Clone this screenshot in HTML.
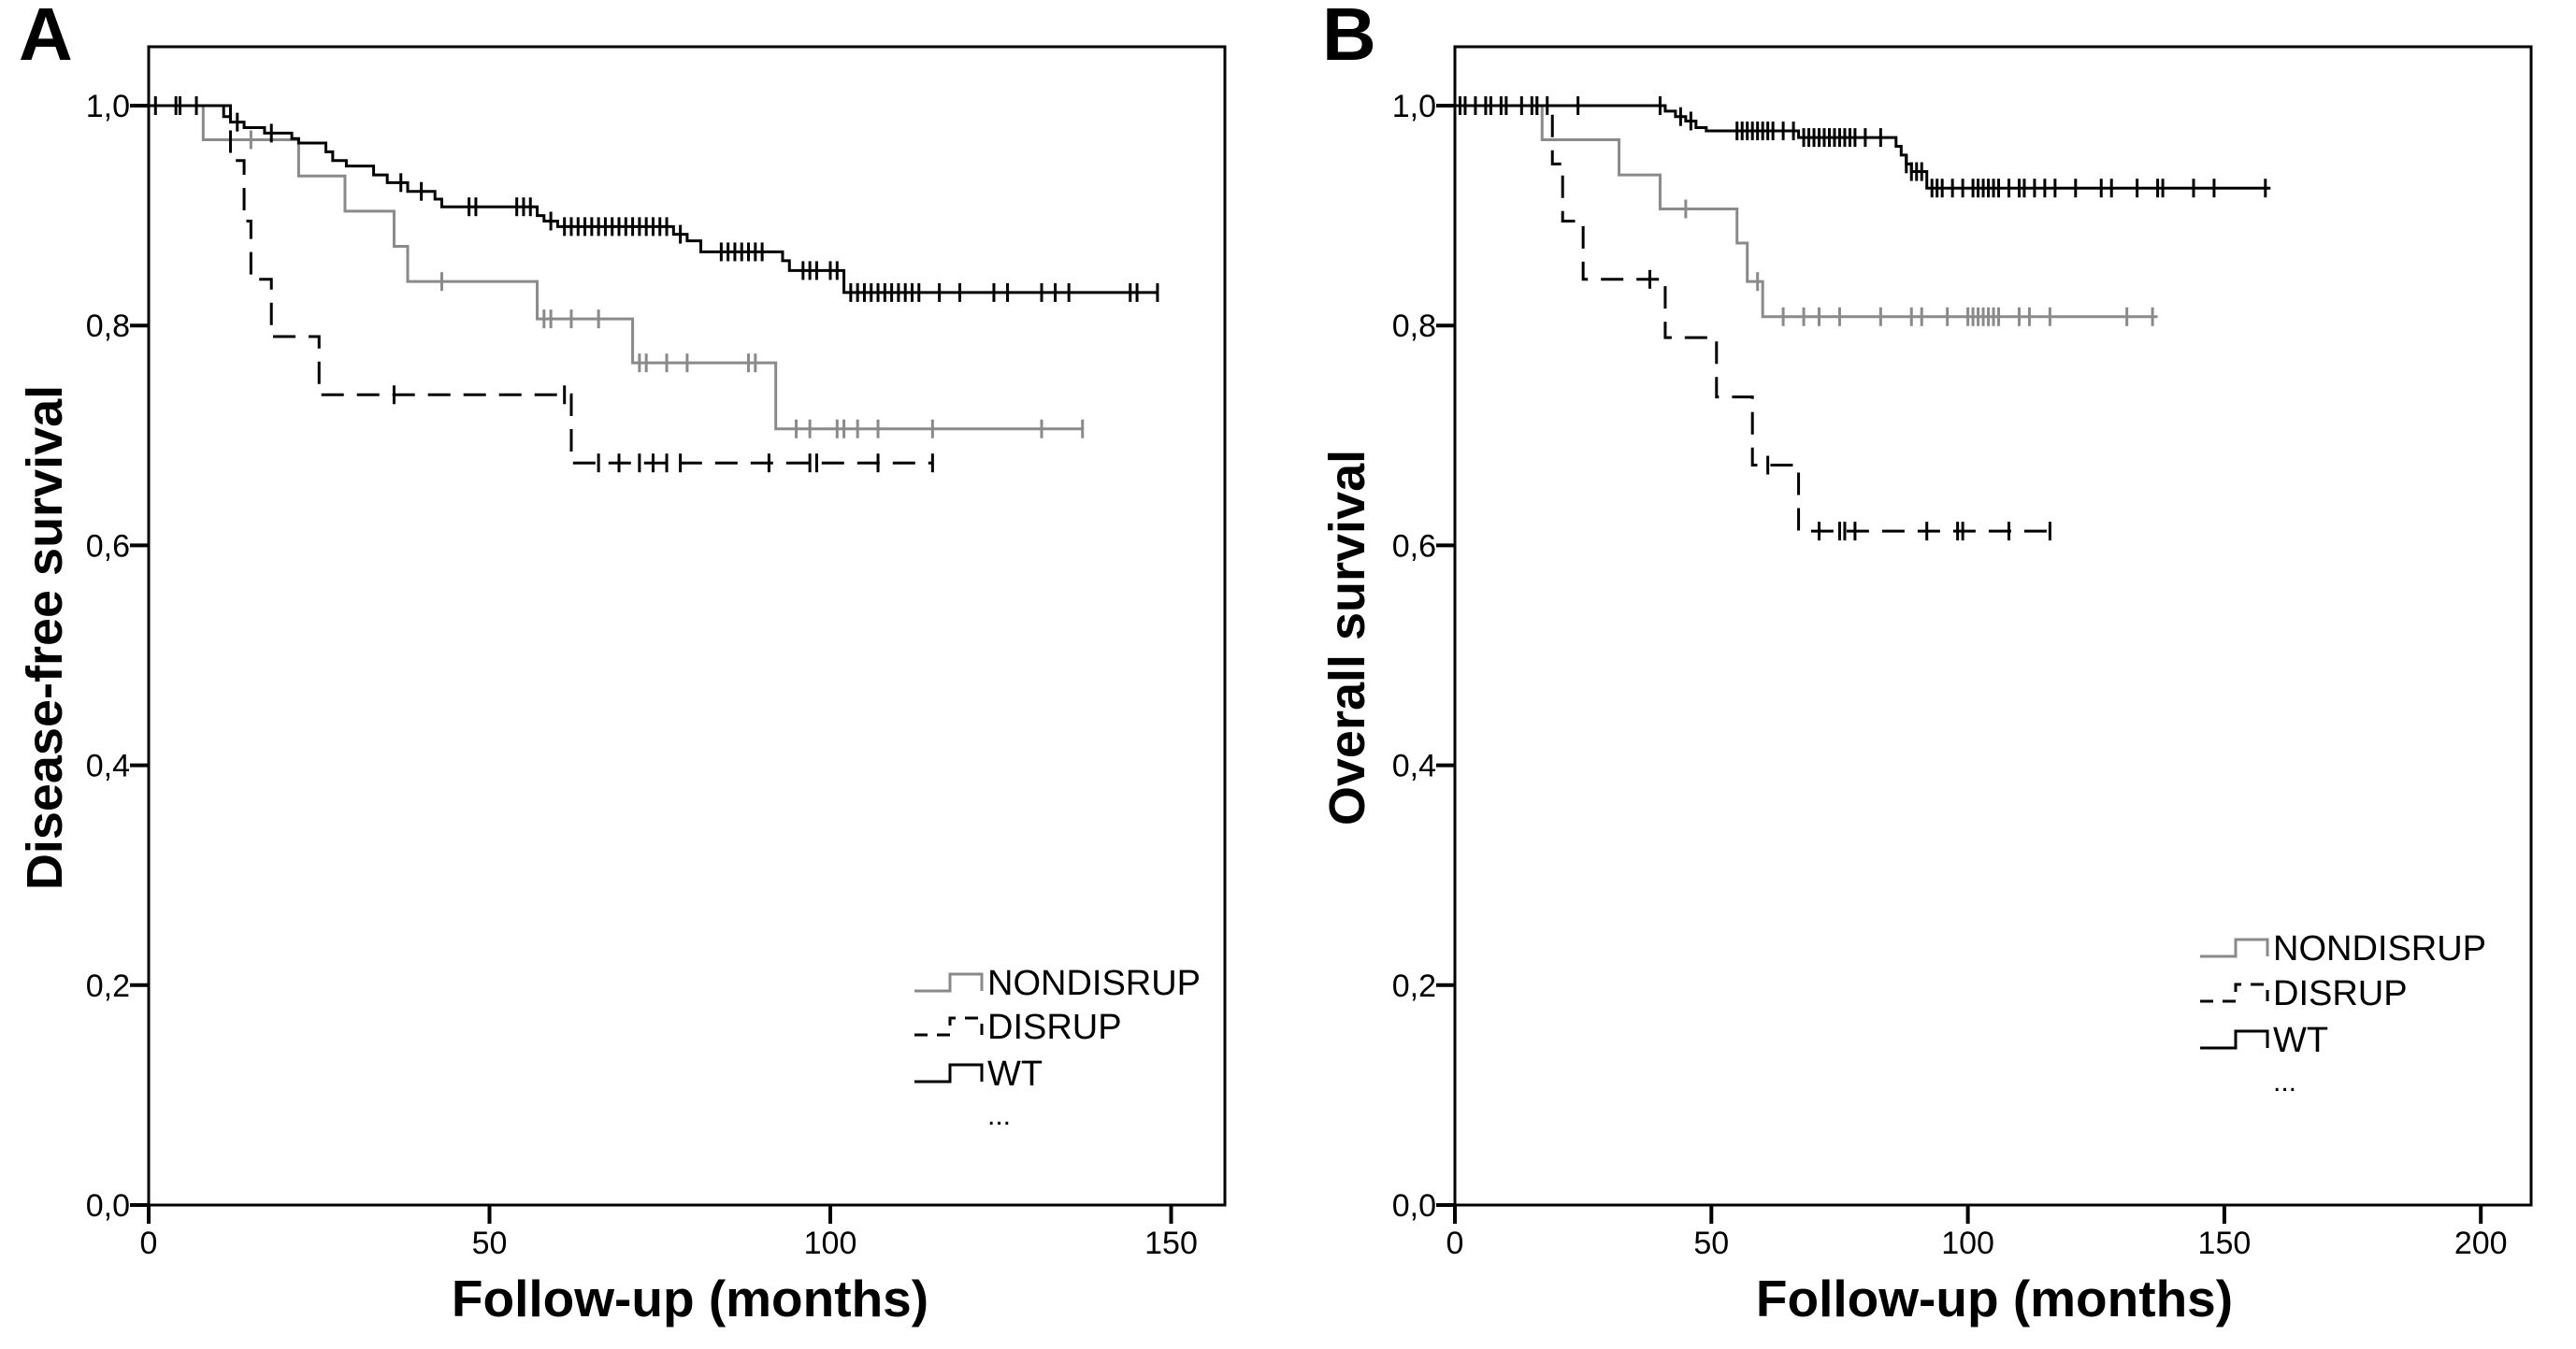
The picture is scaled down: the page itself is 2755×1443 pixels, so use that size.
<!DOCTYPE html>
<html><head><meta charset="utf-8"><style>
html,body{margin:0;padding:0;background:#fff;}
svg{display:block;font-family:"Liberation Sans",Arial,sans-serif;}
</style></head><body>
<svg id="fig" width="2755" height="1443" viewBox="0 0 2755 1443"></svg>
<script>
// ---- Panel A data (disease-free survival) ----
const aNonTimes = [8, 22, 28.8, 36, 38, 57, 71, 92];
const aNonVals  = [0.969, 0.936, 0.904, 0.872, 0.84, 0.806, 0.766, 0.706];
const aNonCens  = [15, 43, 58, 59, 62, 66, 72, 73, 76, 79, 88, 89, 95, 97, 101, 102, 104, 107, 115, 131, 137];
const aNonEnd = 137;
const aDisTimes = [12, 14, 15, 18, 25, 62];
const aDisVals  = [0.95, 0.895, 0.842, 0.79, 0.737, 0.675];
const aDisCens  = [36, 61, 66, 69, 72, 74, 76, 78, 91, 97, 98, 107, 115];
const aDisEnd = 115;
const aWtTimes = [11, 12, 14, 17, 21, 22, 26, 27, 29, 33, 35, 38, 42, 43, 57, 58, 60, 77, 79, 81, 93, 94, 102];
const aWtVals  = [0.99, 0.985, 0.98, 0.975, 0.97, 0.966, 0.958, 0.95, 0.945, 0.937, 0.93, 0.922, 0.915, 0.908, 0.9, 0.895, 0.89, 0.883, 0.877, 0.867, 0.859, 0.85, 0.83];
const aWtCens  = [1, 4, 4.6, 7, 13, 18, 37, 40, 47, 48, 54, 55, 56, 59, 61, 62, 63, 64, 65, 66, 67, 68, 69, 70, 71, 72, 73, 74, 75, 76, 78, 84, 85, 86, 87, 88, 89, 90, 96, 97, 98, 100, 101, 103, 104, 105, 106, 107, 108, 109, 110, 111, 112, 113, 116, 119, 124, 126, 131, 133, 135, 144, 145, 148];
const aWtEnd = 148;
// ---- Panel B data (overall survival) ----
const bNonTimes = [17, 32, 40, 55, 57, 60];
const bNonVals  = [0.969, 0.937, 0.906, 0.875, 0.84, 0.808];
const bNonCens  = [16, 45, 59, 64, 68, 71, 75, 83, 89, 91, 96, 100, 101, 102, 103, 104, 105, 106, 110, 112, 116, 131, 136];
const bNonEnd = 137;
const bDisTimes = [19, 21, 25, 41, 51, 58, 67];
const bDisVals  = [0.947, 0.895, 0.842, 0.789, 0.735, 0.673, 0.613];
const bDisCens  = [38, 61, 71, 75, 76, 78, 92, 98, 99, 108, 116];
const bDisEnd = 117;
const bWtTimes = [41, 43, 45, 47, 49, 67, 86, 87, 88, 89, 92];
const bWtVals  = [0.995, 0.99, 0.986, 0.98, 0.977, 0.971, 0.963, 0.955, 0.947, 0.94, 0.925];
const bWtCens  = [1, 2, 4, 6, 7, 9, 10, 13, 15, 16, 18, 24, 40, 44, 46, 55, 56, 57, 58, 59, 60, 61, 62, 64, 66, 68, 69, 70, 71, 72, 73, 74, 75, 76, 77, 78, 80, 83, 88, 89, 90, 91, 93, 94, 95, 97, 99, 101, 102, 103, 104, 105, 106, 108, 110, 111, 113, 115, 117, 121, 126, 128, 133, 137, 138, 144, 148, 158];
const bWtEnd = 159;
const yTicks = [0, 0.2, 0.4, 0.6, 0.8, 1.0];
const yTickLabels = ["0,0", "0,2", "0,4", "0,6", "0,8", "1,0"];

const NS = "http://www.w3.org/2000/svg";
const svg = document.getElementById('fig');
function el(tag, attrs, parent, text){
  const e = document.createElementNS(NS, tag);
  for (const k in attrs) e.setAttribute(k, attrs[k]);
  if (text !== undefined) e.textContent = text;
  (parent || svg).appendChild(e);
  return e;
}
function stepVal(times, vals, t){
  let v = 1;
  for (let i = 0; i < times.length; i++) if (times[i] <= t) v = vals[i];
  return v;
}
function drawPanel(cfg){
  const g = el('g', {});
  
  
  const xs = t => cfg.left + t * cfg.pxPerMonth;
  const ys = v => cfg.bottom - v * (cfg.bottom - cfg.y1);
  const box = el('rect', {x: cfg.left, y: cfg.top, width: cfg.right - cfg.left, height: cfg.bottom - cfg.top, fill: 'none', stroke: '#000', 'stroke-width': 3}, g);
  
  
  yTicks.forEach((v, i) => {
    const y = ys(v);
    el('line', {x1: cfg.left - 20, x2: cfg.left, y1: y, y2: y, stroke: '#000', 'stroke-width': 4}, g);
    const t = el('text', {x: cfg.left - 20, y: y + 12, 'font-size': 34, 'text-anchor': 'end'}, g, yTickLabels[i]);
    
    
  });
  cfg.xTicks.forEach(m => {
    const x = xs(m);
    el('line', {x1: x, x2: x, y1: cfg.bottom, y2: cfg.bottom + 20, stroke: '#000', 'stroke-width': 4}, g);
    const t = el('text', {x: x, y: cfg.bottom + 52, 'font-size': 34, 'text-anchor': 'middle'}, g, String(m));
    
    
  });
  const xt = el('text', {x: cfg.xTitleX, y: 1408, 'font-size': 55, 'font-weight': 'bold', 'text-anchor': 'middle'}, g, 'Follow-up (months)');
  
  
  const yt = el('text', {x: 0, y: 0, 'font-size': 54, 'font-weight': 'bold', 'text-anchor': 'middle', transform: `translate(${cfg.yTitleX},682) rotate(-90)`}, g, cfg.yTitle);
  
  
  const pl = el('text', {x: cfg.letterX, y: 64, 'font-size': 80, 'font-weight': 'bold'}, g, cfg.letter);
  
  
  cfg.series.forEach(s => {
    let d = `M${xs(0)},${ys(1)}`;
    s.times.forEach((t, i) => {
      d += ` H${xs(t)} V${ys(s.vals[i])}`;
    });
    d += ` H${xs(s.end)}`;
    const p = el('path', {d: d, fill: 'none', stroke: s.color, 'stroke-width': 3, 'stroke-dasharray': s.dash || 'none'}, g);
    
    
    s.cens.forEach(c => {
      const x = xs(c), y = ys(stepVal(s.times, s.vals, c));
      const m = el('line', {x1: x, x2: x, y1: y - 10, y2: y + 10, stroke: s.color, 'stroke-width': 3}, g);
      
      
    });
  });
  cfg.series.forEach((s, i) => {
    const ly = cfg.legY[i];
    const lx = cfg.legX;
    const p = el('path', {d: `M${lx},${ly + 9} H${lx + 38} V${ly - 9} H${lx + 72} V${ly + 9}`, fill: 'none', stroke: s.color, 'stroke-width': 3, 'stroke-dasharray': s.dash ? '14,10' : 'none'}, g);
    
    
    const t = el('text', {x: lx + 78, y: ly + 13, 'font-size': 38}, g, s.label);
    
    
  });
  const dots = el('text', {x: cfg.legX + 78, y: cfg.legY[2] + 55, 'font-size': 30}, g, '...');
  
  
}
const gray = '#8a8a8a';
drawPanel({
  name: 'panel-a-disease-free', letter: 'A', letterX: 20,
  left: 159, right: 1310, top: 50, bottom: 1289, y1: 113, pxPerMonth: 364.5 / 50,
  xTicks: [0, 50, 100, 150], xTitleX: 738, yTitleX: 66, yTitle: 'Disease-free survival',
  legX: 978, legY: [1051, 1098, 1148],
  series: [
    {key: 'nondisrup', label: 'NONDISRUP', color: gray, times: aNonTimes, vals: aNonVals, cens: aNonCens, end: aNonEnd},
    {key: 'disrup', label: 'DISRUP', color: '#000', dash: '24,14', times: aDisTimes, vals: aDisVals, cens: aDisCens, end: aDisEnd},
    {key: 'wt', label: 'WT', color: '#000', times: aWtTimes, vals: aWtVals, cens: aWtCens, end: aWtEnd}
  ]
});
drawPanel({
  name: 'panel-b-overall', letter: 'B', letterX: 1414,
  left: 1556, right: 2707, top: 50, bottom: 1289, y1: 113, pxPerMonth: 274.3 / 50,
  xTicks: [0, 50, 100, 150, 200], xTitleX: 2133, yTitleX: 1459, yTitle: 'Overall survival',
  legX: 2353, legY: [1014, 1062, 1112],
  series: [
    {key: 'nondisrup', label: 'NONDISRUP', color: gray, times: bNonTimes, vals: bNonVals, cens: bNonCens, end: bNonEnd},
    {key: 'disrup', label: 'DISRUP', color: '#000', dash: '24,14', times: bDisTimes, vals: bDisVals, cens: bDisCens, end: bDisEnd},
    {key: 'wt', label: 'WT', color: '#000', times: bWtTimes, vals: bWtVals, cens: bWtCens, end: bWtEnd}
  ]
});
</script>
</body></html>
